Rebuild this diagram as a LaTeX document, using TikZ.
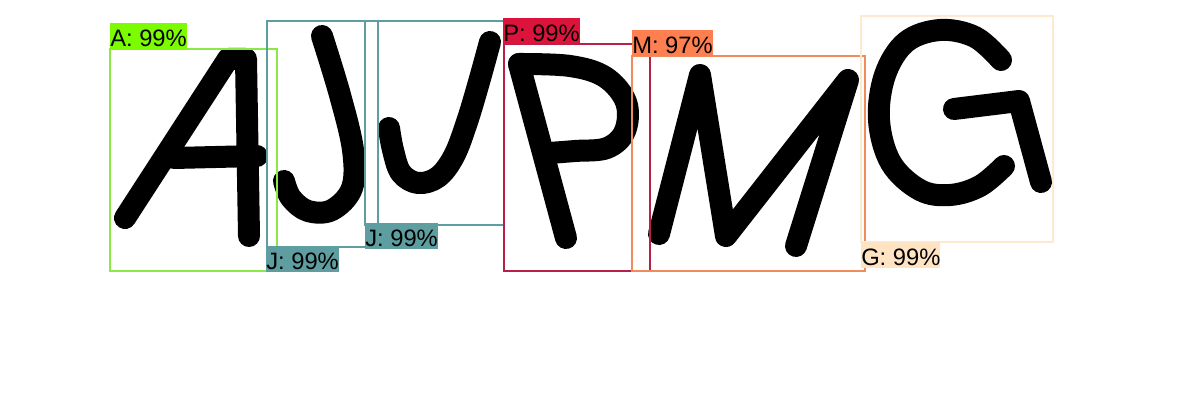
\documentclass[tikz,border=0pt]{standalone}
\usepackage{fontspec}
\setmainfont{Liberation Sans}
\definecolor{tagA}{RGB}{124,252,0}
\definecolor{lineA}{RGB}{140,232,70}
\definecolor{tagJ}{RGB}{95,158,160}
\definecolor{tagP}{RGB}{220,20,60}
\definecolor{lineP}{RGB}{185,32,72}
\definecolor{tagM}{RGB}{255,127,80}
\definecolor{lineM}{RGB}{240,140,92}
\definecolor{tagG}{RGB}{255,228,196}
\definecolor{lineG}{RGB}{255,234,208}
\tikzset{
  ink/.style={line width=16.5pt, line cap=round, line join=round},
  frame/.style={line width=1.5pt},
  tag/.style={inner sep=0pt, text height=17.5pt, text depth=2pt,
    font=\fontsize{17.8}{20}\selectfont}
}
\begin{document}
\begin{tikzpicture}[x=0.75pt,y=-0.75pt]
\useasboundingbox (0,0) rectangle (1200,420);
% letters
\draw [ink] (125,218)--(228,59)--(246,59)--(249,236);
\draw [ink] (174,158)--(257,156);
\draw [ink] plot[smooth,tension=0.6] coordinates {(322,36) (340,95) (353,150) (352,188) (332,210) (308,211) (291,198) (284,181)};
\draw [ink] plot[smooth,tension=0.6] coordinates {(490,42) (479,82) (467,122) (454,156) (438,177) (418,183) (401,173) (393,150) (389,128)};
\draw [ink] (519,64)--(566,238);
\draw [ink] plot[smooth,tension=0.6] coordinates {(519,64) (570,66) (605,77) (626,102) (625,131) (607,148) (575,151) (549,153)};
\draw [ink] (659,234)--(700,75)--(726,236)--(848,80)--(796,246);
\draw [ink] plot[smooth,tension=0.6] coordinates {(1001,60) (975,37) (940,30) (906,42) (885,75) (879,120) (891,163) (920,190) (950,195) (980,186) (1004,166)};
\draw [ink] (954,109)--(1019,101)--(1041,182);
% boxes
\draw [frame,lineA] (110,49) rectangle (277,271);
\draw [frame,tagJ] (267,21) rectangle (378,247);
\draw [frame,tagJ] (365,21) rectangle (504,225);
\draw [frame,lineP] (504,44) rectangle (650,271);
\draw [frame,lineM] (632,56) rectangle (865,271);
\draw [frame,lineG] (861,16) rectangle (1053,242);
% labels
\node [tag,fill=tagA,anchor=south west] (labA) at (110,49) {A: 99\%};
\node [tag,fill=tagJ,anchor=north west] (labJa) at (266,246) {J: 99\%};
\node [tag,fill=tagJ,anchor=north west] (labJb) at (365,223) {J: 99\%};
\node [tag,fill=tagP,anchor=south west] (labP) at (503,44) {P: 99\%};
\node [tag,fill=tagM,anchor=south west] (labM) at (632,56) {M: 97\%};
\node [tag,fill=tagG,anchor=north west] (labG) at (861,242) {G: 99\%};
\end{tikzpicture}
\end{document}
